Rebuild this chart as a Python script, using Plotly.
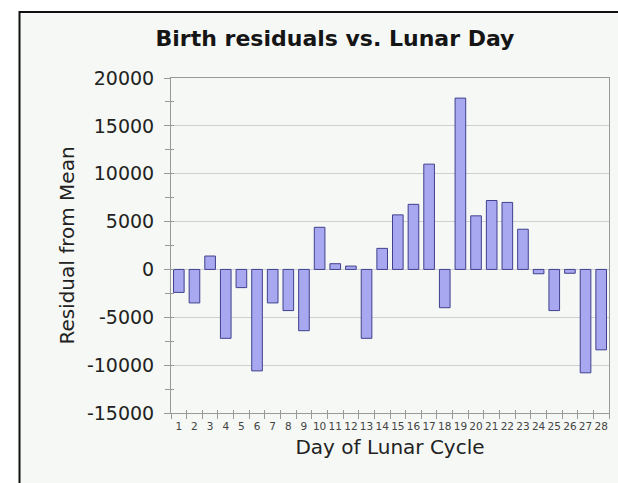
import plotly.graph_objects as go

days = [str(d) for d in range(1, 29)]
residuals = [-2400, -3500, 1400, -7200, -1900, -10600, -3500, -4300, -6400, 4400,
             600, 350, -7200, 2200, 5700, 6800, 11000, -4000, 17900, 5600,
             7200, 7000, 4200, -450, -4300, -400, -10800, -8400]
y_ticks = [-15000, -10000, -5000, 0, 5000, 10000, 15000, 20000]
y_range = [-15000, 20000]

W, H = 618, 483
L, R, T, B = 171, 9, 78, 70
pw, ph = W - L - R, H - T - B

def px(x):
    return (x - L) / pw

def py(y):
    return (H - B - y) / ph

FONT = "DejaVu Sans"
TICK = "#999"

fig = go.Figure()
fig.add_trace(go.Bar(
    x=days, y=residuals,
    marker=dict(color="#a8a8f0", line=dict(color="#40408e", width=1)),
    hoverinfo="x+y",
))
# empty helper trace so the overlay axes (inner half of crossing ticks) get drawn
fig.add_trace(go.Scatter(x=[], y=[], xaxis="x2", yaxis="y2", showlegend=False,
                         hoverinfo="skip"))

boundaries = [i - 0.5 for i in range(len(days) + 1)]

fig.update_layout(
    width=W, height=H, autosize=False,
    margin=dict(l=L, r=R, t=T, b=B, pad=0),
    paper_bgcolor="white",
    plot_bgcolor="rgba(0,0,0,0)",
    showlegend=False,
    bargap=0.32,
    font=dict(family=FONT, color="#222"),
    title=dict(text="<b>Birth residuals vs. Lunar Day</b>",
               font=dict(family=FONT, size=22, color="#151515"),
               xref="container", yref="container",
               x=335 / W, xanchor="center", y=1 - 38 / H, yanchor="middle"),
    shapes=[dict(type="rect", xref="paper", yref="paper", layer="below",
                 x0=px(19.5), x1=px(640), y0=py(520), y1=py(12),
                 fillcolor="#f5f8f5", line=dict(color="#111", width=2))],
    xaxis2=dict(overlaying="x", anchor="y", side="bottom", range=[-0.5, len(days) - 0.5],
                tickvals=boundaries, ticks="inside", ticklen=3, tickcolor=TICK,
                showticklabels=False, showgrid=False, showline=False, zeroline=False,
                fixedrange=True),
    yaxis2=dict(overlaying="y", anchor="x", side="left", range=y_range,
                tickvals=y_ticks, ticks="inside", ticklen=3, tickcolor=TICK,
                minor=dict(dtick=2500, ticks="inside", ticklen=3, tickcolor=TICK),
                showticklabels=False, showgrid=False, showline=False, zeroline=False,
                fixedrange=True),
)

fig.update_xaxes(selector=dict(anchor="y"), overwrite=False)
fig.layout.xaxis.update(
    type="category", tickson="boundaries", ticks="outside", ticklen=5,
    tickcolor=TICK, tickwidth=1, ticklabelstandoff=3,
    showline=True, linecolor=TICK, linewidth=1, mirror=True,
    showgrid=False, tickangle=0,
    tickfont=dict(family=FONT, size=10.5, color="#444"),
    title=dict(text="Day of Lunar Cycle", standoff=9,
               font=dict(family=FONT, size=20, color="#222")),
)
fig.layout.yaxis.update(
    range=y_range, tickvals=y_ticks, ticktext=[str(v) for v in y_ticks],
    ticks="outside", ticklen=6, tickcolor=TICK, tickwidth=1,
    ticklabelstandoff=6,
    minor=dict(dtick=2500, ticks="outside", ticklen=5, tickcolor=TICK, showgrid=False),
    showline=True, linecolor=TICK, linewidth=1, mirror=True,
    showgrid=True, gridcolor="#cfcfcf", gridwidth=1, zeroline=False,
    tickfont=dict(family=FONT, size=19, color="#222"),
    title=dict(text="Residual from Mean", standoff=6,
               font=dict(family=FONT, size=20, color="#222")),
)

fig.write_html(
    "out.html",
    config=dict(displayModeBar=False),
    post_script="document.documentElement.style.margin='0';"
                "document.body.style.margin='0';document.body.style.overflow='hidden';",
)
